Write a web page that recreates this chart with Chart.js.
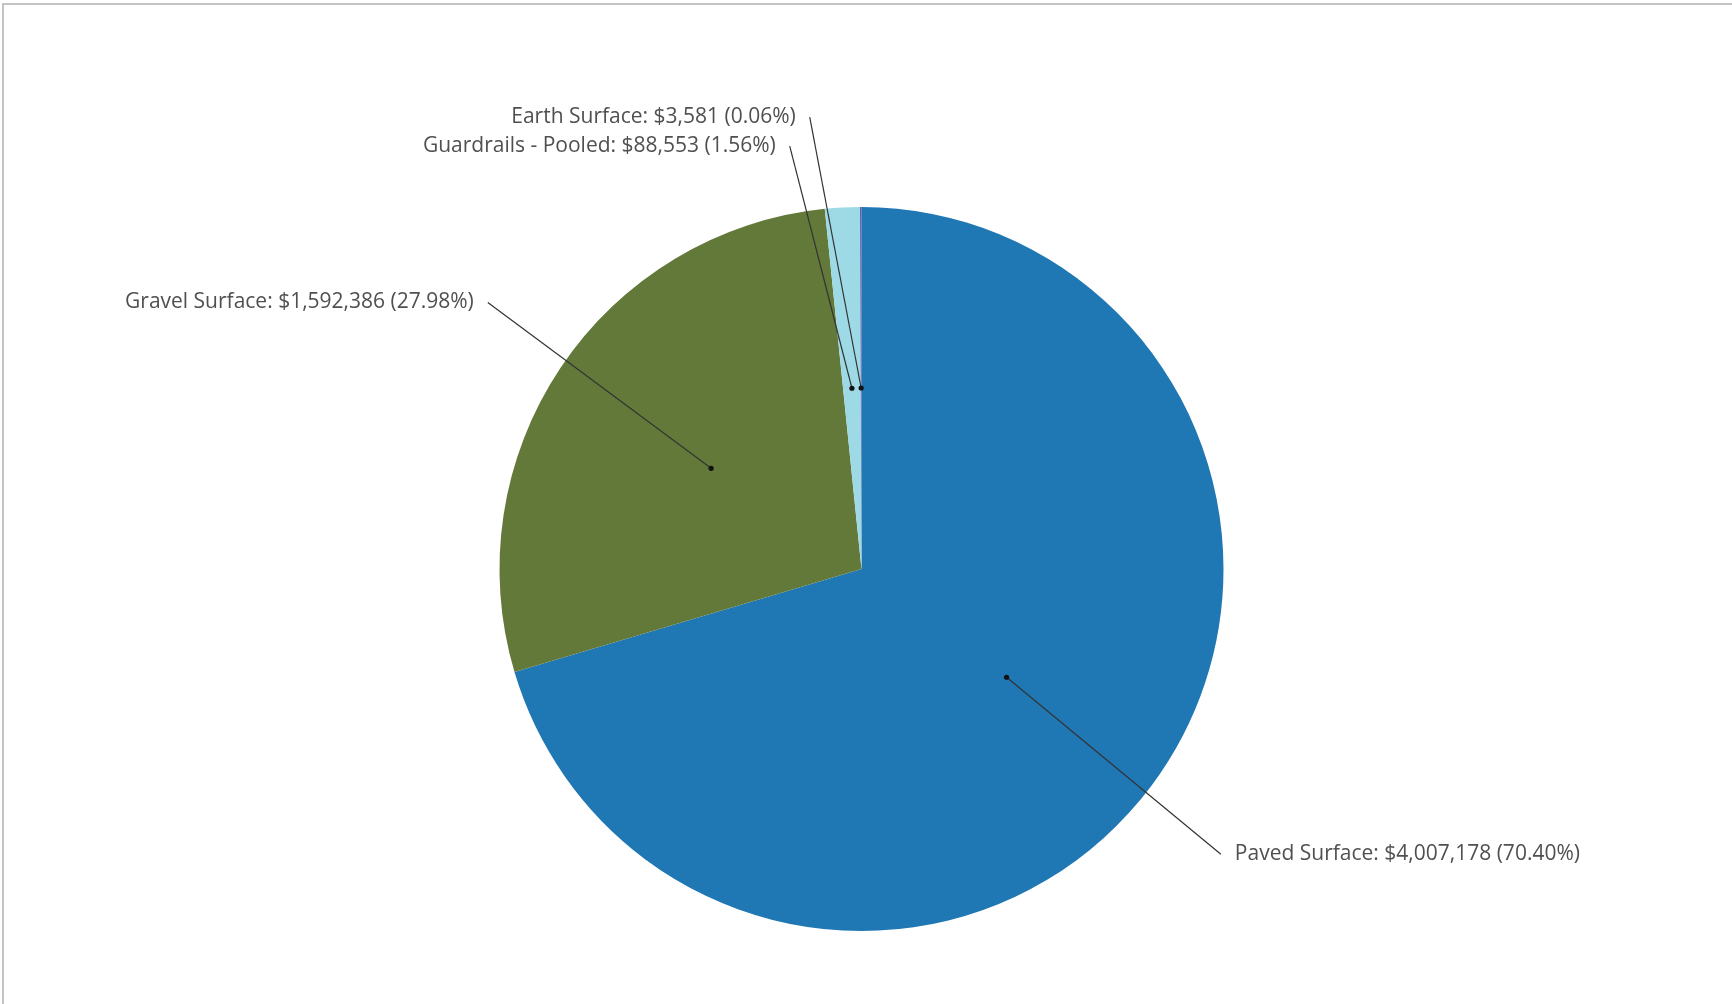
<!DOCTYPE html>
<html lang="en">
<head>
    <meta charset="UTF-8">
    <title>Surface cost breakdown</title>
    <style>
        body { margin: 0; padding: 0; background: #fff; font-family: "Open Sans", Arial, sans-serif; }
        .frame { position: absolute; left: 2px; top: 3px; right: 0; bottom: 0; border-top: 2px solid #c4c4c4; border-left: 2px solid #c4c4c4; }
        #wrap { position: absolute; left: 0; top: 0; width: 1732px; height: 1004px; }
    </style>
</head>
<body>
    <div class="frame"></div>
    <div id="wrap"><canvas id="pieChart"></canvas></div>
    <script src="https://cdn.jsdelivr.net/npm/chart.js"></script>
    <script>
    // data
    const categories = ['Paved Surface', 'Gravel Surface', 'Guardrails - Pooled', 'Earth Surface'];
    const amounts = [4007178, 1592386, 88553, 3581];
    const sliceColors = ['#1f77b4', '#637939', '#9edae5', '#5254a3'];

    const total = amounts.reduce((a, b) => a + b, 0);
    function labelText(i) {
        const pct = (amounts[i] / total * 100).toFixed(2);
        return categories[i] + ': $' + amounts[i].toLocaleString('en-US') + ' (' + pct + '%)';
    }

    // outside labels with leader lines from a dot inside each slice
    const leaderLabels = {
        id: 'leaderLabels',
        afterDatasetsDraw(chart) {
            const ctx = chart.ctx;
            const arcs = chart.getDatasetMeta(0).data;
            const items = arcs.map((arc, i) => {
                const p = arc.getProps(['x', 'y', 'startAngle', 'endAngle', 'outerRadius'], true);
                const mid = (p.startAngle + p.endAngle) / 2;
                const R = p.outerRadius;
                // leader direction a little steeper than the radius
                let ux = Math.cos(mid), uy = Math.sin(mid) * 1.065;
                const n = Math.hypot(ux, uy);
                ux /= n; uy /= n;
                return {
                    i, cx: p.x, cy: p.y, R,
                    dx: p.x + Math.cos(mid) * R * 0.5,
                    dy: p.y + Math.sin(mid) * R * 0.5,
                    ex: p.x + ux * R * 1.268,
                    ey: p.y + uy * R * (1.248 + 0.03 * ux * ux),
                    left: Math.cos(mid) < 0
                };
            });
            // spread labels on the left side so they do not overlap
            const lefts = items.filter(o => o.left).sort((a, b) => a.ey - b.ey);
            lefts.forEach((o, k) => {
                o.ex = o.cx + Math.min(o.ex - o.cx, -0.143 * o.R);
                if (k > 0) {
                    const prev = lefts[k - 1];
                    if (o.ey < prev.ey + 29) {
                        o.ey = prev.ey + 29;
                        o.ex = Math.min(o.ex, prev.ex - 20);
                    }
                }
            });
            ctx.save();
            ctx.font = '21px "Open Sans", Arial, sans-serif';
            ctx.textBaseline = 'middle';
            items.forEach(o => {
                ctx.strokeStyle = '#333';
                ctx.lineWidth = 1.2;
                ctx.beginPath();
                ctx.moveTo(o.dx, o.dy);
                ctx.lineTo(o.ex, o.ey);
                ctx.stroke();
                ctx.fillStyle = '#111';
                ctx.beginPath();
                ctx.arc(o.dx, o.dy, 2.6, 0, Math.PI * 2);
                ctx.fill();
                ctx.fillStyle = '#505050';
                ctx.textAlign = o.left ? 'right' : 'left';
                ctx.fillText(labelText(o.i), o.left ? o.ex - 14 : o.ex + 14, o.ey);
            });
            ctx.restore();
        }
    };

    new Chart(document.getElementById('pieChart'), {
        type: 'pie',
        data: {
            labels: categories,
            datasets: [{
                data: amounts,
                backgroundColor: sliceColors,
                borderWidth: 0
            }]
        },
        options: {
            responsive: true,
            maintainAspectRatio: false,
            animation: false,
            layout: { padding: { top: 207, bottom: 73, left: 300, right: 309 } },
            plugins: { legend: { display: false }, tooltip: { enabled: false } }
        },
        plugins: [leaderLabels]
    });
    </script>
</body>
</html>
